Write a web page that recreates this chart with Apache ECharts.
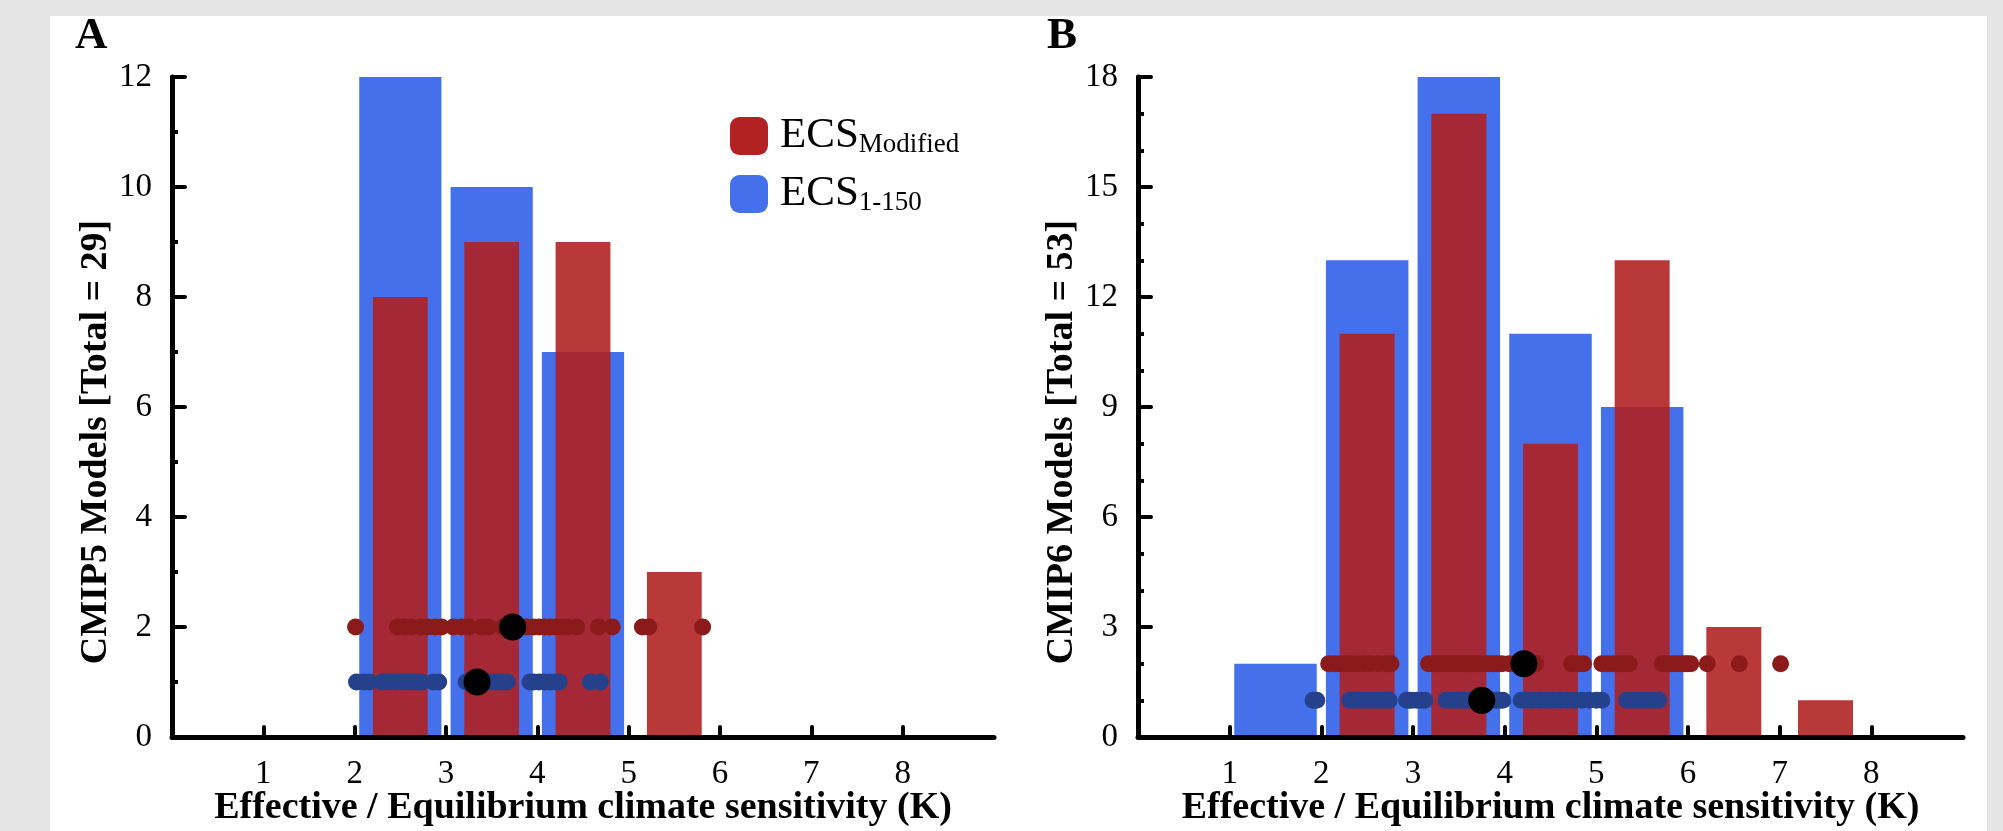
<!DOCTYPE html>
<html>
<head>
<meta charset="utf-8">
<script src="https://cdn.jsdelivr.net/npm/echarts@6/dist/echarts.min.js"></script>
<style>
  html, body { margin: 0; padding: 0; background: #e5e5e5; overflow: hidden; }
  #panel { position: absolute; left: 50px; top: 16px; width: 1937px; height: 815px; background: #fff; }
  #chart { position: absolute; left: 0; top: 0; width: 2003px; height: 831px; }
</style>
</head>
<body>
<div id="panel"></div>
<div id="chart"></div>
<script>
// histogram bins (lower edge of each 1 K bin) and model counts
const binsA150 = [2, 3, 4];
const countsA150 = [12, 10, 7];
const binsAMod = [2, 3, 4, 5];
const countsAMod = [8, 9, 9, 3];

const binsB150 = [1, 2, 3, 4, 5];
const countsB150 = [2, 13, 18, 11, 9];
const binsBMod = [2, 3, 4, 5, 6, 7];
const countsBMod = [11, 17, 8, 13, 3, 1];

// individual model values (K), drawn as dots on rows y=2 (modified) and y=1 (1-150)
const dotsAMod = [2.01, 2.47, 2.55, 2.62, 2.72, 2.8, 2.88, 2.95,
  3.08, 3.17, 3.25, 3.39, 3.47, 3.62, 3.75, 3.88, 3.96,
  4.02, 4.08, 4.14, 4.2, 4.27, 4.33, 4.43, 4.67, 4.82,
  5.15, 5.22, 5.81];
const dotsA150 = [2.02, 2.1, 2.16, 2.3, 2.38, 2.46, 2.53, 2.6, 2.67, 2.73, 2.86, 2.92,
  3.22, 3.28, 3.34, 3.4, 3.47, 3.55, 3.6, 3.67, 3.92, 3.96,
  4.02, 4.08, 4.14, 4.2, 4.24, 4.58, 4.69];
const dotsBMod = [2.08, 2.14, 2.2, 2.27, 2.33, 2.4, 2.47, 2.54, 2.62, 2.7, 2.76,
  3.17, 3.22, 3.27, 3.32, 3.37, 3.42, 3.47, 3.52, 3.57, 3.62, 3.67, 3.72, 3.77, 3.82, 3.87, 3.92, 3.97,
  4.05, 4.12, 4.2, 4.28, 4.34, 4.73, 4.8, 4.86,
  5.06, 5.12, 5.18, 5.25, 5.3, 5.36, 5.72, 5.77, 5.82, 5.87, 5.92, 5.96, 5.99,
  6.03, 6.21, 6.56,
  7.01];
const dotsB150 = [1.91, 1.95,
  2.31, 2.35, 2.4, 2.45, 2.5, 2.55, 2.6, 2.65, 2.7, 2.74, 2.93, 2.96, 2.99,
  3.04, 3.09, 3.13, 3.36, 3.41, 3.46, 3.51, 3.55, 3.58, 3.63, 3.68, 3.72, 3.77, 3.82, 3.86, 3.91, 3.95, 3.98,
  4.18, 4.24, 4.3, 4.38, 4.45, 4.52, 4.6, 4.68, 4.76, 4.84, 4.92,
  5.0, 5.06, 5.33, 5.38, 5.43, 5.5, 5.56, 5.62, 5.68];

// means (black dots)
const meanAMod = 3.73, meanA150 = 3.34;
const meanBMod = 4.21, meanB150 = 3.75;
const rowMod = 2, row150 = 1;

const xTickVals = [1, 2, 3, 4, 5, 6, 7, 8];
const xTitle = 'Effective / Equilibrium climate sensitivity (K)';

const FONT = '"Liberation Serif", "Times New Roman", serif';
const BLUE = '#4570EB';
const RED = '#B02020';
const RED_DOT = '#8B1A1A';
const BLUE_DOT = '#26418C';

const chart = echarts.init(document.getElementById('chart'));

const barRender = (w, color, opacity) => (params, api) => {
  const c = api.value(0) + 0.5;
  const p0 = api.coord([c - w / 2, api.value(1)]);
  const p1 = api.coord([c + w / 2, 0]);
  return {
    type: 'rect',
    shape: { x: p0[0], y: p0[1], width: p1[0] - p0[0], height: p1[1] - p0[1] },
    style: { fill: color, opacity: opacity }
  };
};

const barSeries = (name, idx, bins, counts, color, w, opacity) => ({
  name: name, type: 'custom', xAxisIndex: idx, yAxisIndex: idx, z: 2,
  renderItem: barRender(w, color, opacity),
  itemStyle: { color: color },
  encode: { x: 0, y: 1 },
  data: bins.map((b, i) => [b, counts[i]])
});

const dotSeries = (idx, vals, y, color, size, z) => ({
  type: 'scatter', xAxisIndex: idx, yAxisIndex: idx, z: z,
  symbolSize: size, itemStyle: { color: color, opacity: 1 },
  data: vals.map(v => [v, y])
});

const mkX = (idx) => ({
  gridIndex: idx, type: 'value', min: 0, max: 9, interval: 1, z: 10,
  name: xTitle, nameLocation: 'middle', nameGap: 52, nameMoveOverlap: false,
  nameTextStyle: { fontFamily: FONT, fontWeight: 'bold', fontSize: 38, color: '#000' },
  axisLine: { lineStyle: { color: '#000', width: 5, cap: 'round' } },
  axisTick: { show: true, inside: true, length: 10, customValues: xTickVals,
    lineStyle: { color: '#000', width: 4, cap: 'round' } },
  axisLabel: { fontFamily: FONT, fontSize: 33, color: '#000', margin: 21, customValues: xTickVals },
  splitLine: { show: false }
});

const mkY = (idx, max, step, name) => ({
  gridIndex: idx, type: 'value', min: 0, max: max, interval: step, z: 10,
  name: name, nameLocation: 'middle', nameGap: 40, nameRotate: 90,
  nameTextStyle: { fontFamily: FONT, fontWeight: 'bold', fontSize: 38, color: '#000', padding: [0, 70, 0, 0] },
  axisLine: { lineStyle: { color: '#000', width: 5 } },
  axisTick: { show: true, inside: true, length: 13, lineStyle: { color: '#000', width: 4, cap: 'round' } },
  minorTick: { show: true, splitNumber: step, length: 6, lineStyle: { color: '#000', width: 4 } },
  axisLabel: { fontFamily: FONT, fontSize: 33, color: '#000', margin: 20 },
  splitLine: { show: false }
});

const option = {
  animation: false,
  textStyle: { fontFamily: FONT },
  grid: [
    { left: 172, top: 77, width: 822, height: 660, outerBoundsMode: 'none' },
    { left: 1138, top: 77, width: 825, height: 660, outerBoundsMode: 'none' }
  ],
  xAxis: [mkX(0), mkX(1)],
  yAxis: [mkY(0, 12, 2, 'CMIP5 Models [Total = 29]'), mkY(1, 18, 3, 'CMIP6 Models [Total = 53]')],
  legend: {
    orient: 'vertical', left: 730, top: 111, padding: 0,
    itemWidth: 38, itemHeight: 38, itemGap: 11, selectedMode: false,
    data: [
      { name: 'ECS_Modified', icon: 'roundRect', itemStyle: { color: '#B22222', opacity: 1 } },
      { name: 'ECS_1-150', icon: 'roundRect', itemStyle: { color: BLUE, opacity: 1 } }
    ],
    formatter: (n) => n === 'ECS_Modified' ? '{m|ECS}{s|Modified}' : '{m|ECS}{s|1-150}',
    textStyle: {
      color: '#000',
      rich: {
        m: { fontFamily: FONT, fontSize: 43, lineHeight: 44, verticalAlign: 'top', padding: [0, 0, 0, 7], color: '#000' },
        s: { fontFamily: FONT, fontSize: 27, lineHeight: 30, verticalAlign: 'bottom', padding: [20, 0, 0, 0], color: '#000' }
      }
    }
  },
  graphic: [
    { type: 'text', left: 75, top: 14, style: { text: 'A', font: 'bold 45px "Liberation Serif"', fill: '#000' } },
    { type: 'text', left: 1047, top: 14, style: { text: 'B', font: 'bold 45px "Liberation Serif"', fill: '#000' } }
  ],
  series: [
    barSeries('ECS_1-150', 0, binsA150, countsA150, BLUE, 0.9, 1),
    barSeries('ECS_Modified', 0, binsAMod, countsAMod, RED, 0.6, 0.89),
    barSeries('ECS_1-150', 1, binsB150, countsB150, BLUE, 0.9, 1),
    barSeries('ECS_Modified', 1, binsBMod, countsBMod, RED, 0.6, 0.89),
    dotSeries(0, dotsAMod, rowMod, RED_DOT, 17, 3),
    dotSeries(0, dotsA150, row150, BLUE_DOT, 17, 3),
    dotSeries(1, dotsBMod, rowMod, RED_DOT, 17, 3),
    dotSeries(1, dotsB150, row150, BLUE_DOT, 17, 3),
    dotSeries(0, [meanAMod], rowMod, '#000', 27, 4),
    dotSeries(0, [meanA150], row150, '#000', 27, 4),
    dotSeries(1, [meanBMod], rowMod, '#000', 27, 4),
    dotSeries(1, [meanB150], row150, '#000', 27, 4)
  ]
};

chart.setOption(option);
</script>
</body>
</html>
